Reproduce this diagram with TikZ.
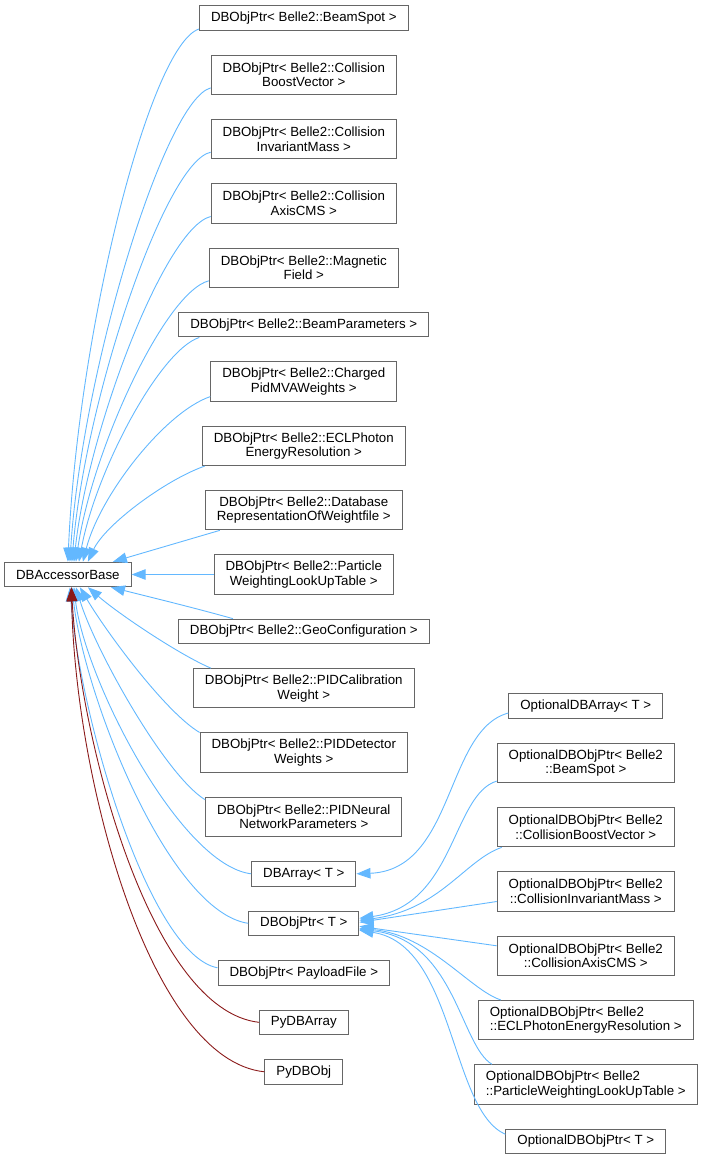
\documentclass[tikz,border=0pt]{standalone}
\usepackage{fontspec}
\setmainfont{Liberation Sans}
\usepackage{tikz}
\usetikzlibrary{shapes,arrows.meta,positioning}
\definecolor{edgeblue}{HTML}{63B8FF}
\definecolor{edgered}{HTML}{8B1A1A}
\definecolor{boxgray}{HTML}{666666}
\newcommand{\clsfont}{\fontsize{13.3pt}{14.6pt}\selectfont}

\begin{document}
\begin{tikzpicture}[
    x=1pt, y=-1pt,
    node distance=24pt,
    cls/.style={rectangle, draw=boxgray, fill=white, line width=1pt, inner xsep=11.5pt, inner ysep=0pt, minimum height=24.5pt, align=center, font=\clsfont},
    cls2/.style={cls, minimum height=39.3pt},
    inh/.style={draw=edgeblue, line width=0.9pt, -{Triangle[length=14pt,width=10.5pt]}},
    inhpy/.style={inh, draw=edgered}
]
    \useasboundingbox (0,0) rectangle (701,1159);

    \node[cls] (bs) at (303.8,18) {DBObjPtr< Belle2::BeamSpot >};
    \node[cls2, below=of bs] (boost) {DBObjPtr< Belle2::Collision\\BoostVector >};
    \node[cls2, below=of boost] (inv) {DBObjPtr< Belle2::Collision\\InvariantMass >};
    \node[cls2, below=of inv] (axis) {DBObjPtr< Belle2::Collision\\AxisCMS >};
    \node[cls2, below=of axis] (mag) {DBObjPtr< Belle2::Magnetic\\Field >};
    \node[cls, below=of mag] (bpar) {DBObjPtr< Belle2::BeamParameters >};
    \node[cls2, below=of bpar] (charged) {DBObjPtr< Belle2::Charged\\PidMVAWeights >};
    \node[cls2, below=of charged] (ecl) {DBObjPtr< Belle2::ECLPhoton\\EnergyResolution >};
    \node[cls2, below=of ecl] (db) {DBObjPtr< Belle2::Database\\RepresentationOfWeightfile >};
    \node[cls2, below=of db] (part) {DBObjPtr< Belle2::Particle\\WeightingLookUpTable >};
    \node[cls, below=of part] (geo) {DBObjPtr< Belle2::GeoConfiguration >};
    \node[cls2, below=of geo] (pidcal) {DBObjPtr< Belle2::PIDCalibration\\Weight >};
    \node[cls2, below=of pidcal] (piddet) {DBObjPtr< Belle2::PIDDetector\\Weights >};
    \node[cls2, below=of piddet] (pidnn) {DBObjPtr< Belle2::PIDNeural\\NetworkParameters >};
    \node[cls, below=of pidnn] (dbarr) {DBArray< T >};
    \node[cls, below=of dbarr] (dbobj) {DBObjPtr< T >};
    \node[cls, below=of dbobj] (payload) {DBObjPtr< PayloadFile >};
    \node[cls, below=of payload] (pyarr) {PyDBArray};
    \node[cls, below=of pyarr] (pyobj) {PyDBObj};

    \node[cls, left=82pt of part] (base) {DBAccessorBase};

    \node[cls] (optarr) at (585.8,706) {OptionalDBArray< T >};
    \node[cls2, below=of optarr] (optbs) {OptionalDBObjPtr< Belle2\\::BeamSpot >};
    \node[cls2, below=of optbs] (optboost) {OptionalDBObjPtr< Belle2\\::CollisionBoostVector >};
    \node[cls2, below=of optboost] (optinv) {OptionalDBObjPtr< Belle2\\::CollisionInvariantMass >};
    \node[cls2, below=of optinv] (optaxis) {OptionalDBObjPtr< Belle2\\::CollisionAxisCMS >};
    \node[cls2, below=of optaxis, align=left] (optecl) {OptionalDBObjPtr< Belle2\\::ECLPhotonEnergyResolution >};
    \node[cls2, below=of optecl, align=left] (optpart) {OptionalDBObjPtr< Belle2\\::ParticleWeightingLookUpTable >};
    \node[cls, below=of optpart] (optt) {OptionalDBObjPtr< T >};

    \draw[inh] ([yshift=-11pt]bs.west) .. controls (150,45) and (78,330) .. (base.north);
    \draw[inh] ([yshift=-13pt]boost.west) .. controls (165,100) and (82,370) .. ([xshift=2pt]base.north);
    \draw[inh] ([yshift=-13pt]inv.west) .. controls (165,162) and (85,400) .. ([xshift=4pt]base.north);
    \draw[inh] ([yshift=-13pt]axis.west) .. controls (165,228) and (88,430) .. ([xshift=6pt]base.north);
    \draw[inh] ([yshift=-13pt]mag.west) .. controls (165,292) and (92,450) .. ([xshift=8pt]base.north);
    \draw[inh] ([xshift=21pt]bpar.south west) .. controls (160,350) and (96,470) .. ([xshift=11pt]base.north);
    \draw[inh] ([yshift=-15pt]charged.west) .. controls (165,412) and (100,495) .. ([xshift=15pt]base.north);
    \draw[inh] ([xshift=3pt]ecl.south west) .. controls (165,480) and (105,525) .. ([xshift=20pt]base.north);
    \draw[inh] ([xshift=15pt]db.south west) -- ([xshift=45pt]base.north);
    \draw[inh] (part.west) -- (base.east);
    \draw[inh] ([xshift=55pt]geo.north west) .. controls (195,608) and (150,597) .. ([xshift=43pt]base.south);
    \draw[inh] ([xshift=18pt]pidcal.north west) .. controls (180,655) and (120,615) .. ([xshift=20pt]base.south);
    \draw[inh] (piddet.north west) .. controls (165,712) and (105,630) .. ([xshift=12pt]base.south);
    \draw[inh] ([yshift=-3pt]pidnn.north west) .. controls (165,775) and (95,650) .. ([xshift=8pt]base.south);
    \draw[inh] (dbarr.west) .. controls (180,865) and (85,680) .. ([xshift=6pt]base.south);
    \draw[inh] (dbobj.west) .. controls (170,912) and (85,700) .. ([xshift=4pt]base.south);
    \draw[inh] ([yshift=5pt]payload.west) .. controls (150,955) and (80,720) .. ([xshift=2pt]base.south);
    \draw[inhpy] (pyarr.west) .. controls (150,1010) and (80,740) .. ([xshift=3.5pt]base.south);
    \draw[inhpy] (pyobj.west) .. controls (150,1060) and (75,780) .. ([xshift=3.5pt]base.south);

    \draw[inh] ([yshift=-7pt]optarr.west) .. controls (445,730) and (455,870) .. (dbarr.east);
    \draw[inh] ([yshift=2pt]optbs.south west) .. controls (452,795) and (455,905) .. ([yshift=5pt]dbobj.east);
    \draw[inh] ([xshift=5pt]optboost.south west) .. controls (465,860) and (440,910) .. ([yshift=3pt]dbobj.east);
    \draw[inh] ([yshift=-10pt]optinv.west) -- ([yshift=1pt]dbobj.east);
    \draw[inh] ([yshift=10pt]optaxis.west) -- ([yshift=-3pt]dbobj.east);
    \draw[inh] ([xshift=23pt]optecl.north west) .. controls (470,990) and (430,935) .. ([yshift=-5pt]dbobj.east);
    \draw[inh] ([xshift=18pt]optpart.north west) .. controls (460,1045) and (455,940) .. ([yshift=-6pt]dbobj.east);
    \draw[inh] ([yshift=7pt]optt.west) .. controls (450,1110) and (455,945) .. ([yshift=-7pt]dbobj.east);
\end{tikzpicture}
\end{document}
